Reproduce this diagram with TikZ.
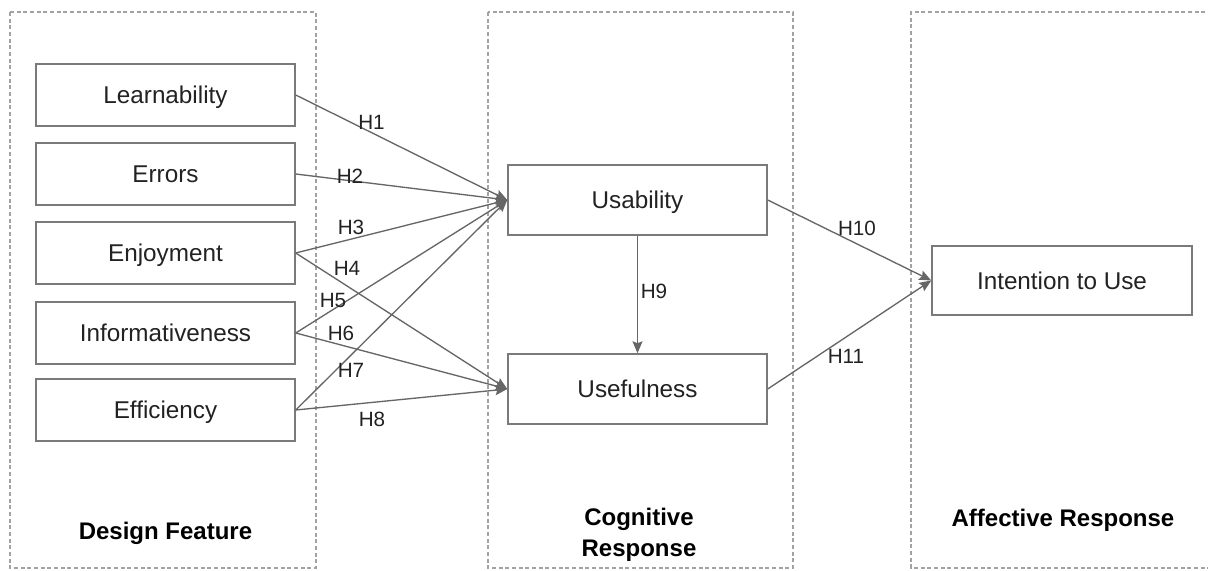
\documentclass[tikz,border=0pt]{standalone}
\usepackage{fontspec}
\setmainfont{Liberation Sans}
\usetikzlibrary{arrows.meta}
\definecolor{boxline}{HTML}{7A7A7A}
\definecolor{arrline}{HTML}{666666}
\definecolor{dashline}{HTML}{A2A2A2}
\definecolor{txt}{HTML}{222222}
\begin{document}
\begin{tikzpicture}[x=0.75pt,y=-0.75pt,
  construct/.style={draw=boxline, line width=1.1pt, fill=white, text=txt,
    font=\fontsize{18.2}{22}\selectfont, minimum width=194.25pt, minimum height=46.5pt,
    inner sep=0pt, text depth=0pt},
  midbox/.style={construct, minimum height=52.5pt},
  hyp/.style={-{Stealth[length=9pt,width=7.5pt,inset=1.5pt]}, draw=arrline, line width=1pt},
  hlabel/.style={text=txt, font=\fontsize{15.5}{18}\selectfont, inner sep=0pt},
  group/.style={draw=dashline, line width=0.9pt, dash pattern=on 3pt off 2pt},
  grouptitle/.style={text=black, font=\fontsize{18}{21.5}\selectfont\bfseries, align=center, inner sep=0pt}
]
\useasboundingbox (0,0) rectangle (1208,571);
\fill[white] (0,0) rectangle (1208,571);

% dashed group frames
\draw[group] (10,12) rectangle (316,568);
\draw[group] (488,12) rectangle (793,568);
\draw[group] (1212,12) -- (911,12) -- (911,568) -- (1212,568);

% design features
\node[construct] (learn) at (165.5,95) {Learnability};
\node[construct] (err)   at (165.5,174) {Errors};
\node[construct] (enj)   at (165.5,253) {Enjoyment};
\node[construct] (info)  at (165.5,333) {Informativeness};
\node[construct] (eff)   at (165.5,410) {Efficiency};

% cognitive response
\node[midbox] (usab) at (637.5,200) {Usability};
\node[midbox] (usef) at (637.5,389) {Usefulness};

% affective response
\node[midbox, minimum width=195pt, minimum height=51.75pt] (intent) at (1062,280.5) {Intention to Use};

% hypotheses
\draw[hyp] (learn.east) -- (usab.west);
\draw[hyp] (err.east)   -- (usab.west);
\draw[hyp] (enj.east)   -- (usab.west);
\draw[hyp] (enj.east)   -- (usef.west);
\draw[hyp] (info.east)  -- (usab.west);
\draw[hyp] (info.east)  -- (usef.west);
\draw[hyp] (eff.east)   -- (usab.west);
\draw[hyp] (eff.east)   -- (usef.west);
\draw[hyp] (usab.south) -- (usef.north);
\draw[hyp] (usab.east)  -- (intent.west);
\draw[hyp] (usef.east)  -- (intent.west);

\node[hlabel] (h1)  at (371.5,122.5) {H1};
\node[hlabel] (h2)  at (350,176) {H2};
\node[hlabel] (h3)  at (351,227) {H3};
\node[hlabel] (h4)  at (347,268) {H4};
\node[hlabel] (h5)  at (333,300) {H5};
\node[hlabel] (h6)  at (341,333) {H6};
\node[hlabel] (h7)  at (351,370) {H7};
\node[hlabel] (h8)  at (372,419) {H8};
\node[hlabel] (h9)  at (654,291) {H9};
\node[hlabel] (h10) at (857,228) {H10};
\node[hlabel] (h11) at (846,356) {H11};

% group titles
\node[grouptitle] (tdesign) at (165.5,533) {Design Feature};
\node[grouptitle] (tcog) at (639,535) {Cognitive\\[2pt]Response};
\node[grouptitle] (taff) at (1063,520) {Affective Response};
\end{tikzpicture}
\end{document}
